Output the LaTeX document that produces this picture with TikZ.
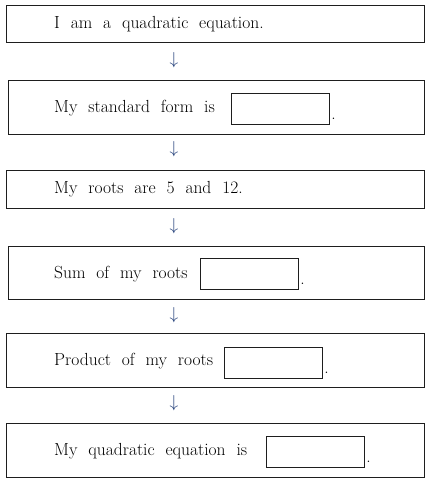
\documentclass[tikz,border=0pt]{standalone}
\usetikzlibrary{positioning, calc}
\definecolor{lineblk}{HTML}{1E1E1E}
\definecolor{arrblue}{HTML}{24407A}
\newcommand{\boxfont}{\fontsize{17.5}{19}\selectfont\spaceskip=0.62em plus 0.1em\relax}

\begin{document}
\begin{tikzpicture}[x=1pt, y=-1pt,
  frame/.style={rectangle, draw=lineblk, line width=1.1pt, anchor=north west,
    minimum width=418pt, inner sep=0pt},
  txt/.style={anchor=west, inner sep=0pt, font=\boxfont},
  blank/.style={rectangle, draw=lineblk, line width=1.1pt, minimum width=98pt,
    minimum height=31pt, inner sep=0pt, anchor=north west},
  dot/.style={anchor=south west, inner sep=0pt, font=\boxfont},
  down/.style={text=arrblue, font=\fontsize{17}{18}\selectfont, inner sep=0pt},
]
\useasboundingbox (0,0) rectangle (432,484);

% Frames
\node[frame, minimum height=37pt] (f1) at (6,5) {};
\node[frame, minimum height=54pt, minimum width=416pt] (f2) at (8,80) {};
\node[frame, minimum height=38pt] (f3) at (6,170) {};
\node[frame, minimum height=53pt, minimum width=416pt] (f4) at (8,246) {};
\node[frame, minimum height=54pt] (f5) at (6,333) {};
\node[frame, minimum height=54pt] (f6) at (6,423) {};

% Texts
\node[txt] (t1) at ($(f1.west)+(48,0)$) {I am a quadratic equation.};
\node[txt] (t2) at ($(f2.west)+(46,1)$) {My standard form is};
\node[txt] (t3) at ($(f3.west)+(48,0)$) {My roots are 5 and 12.};
\node[txt] (t4) at ($(f4.west)+(46,1)$) {Sum of my roots};
\node[txt] (t5) at ($(f5.west)+(48,1)$) {Product of my roots};
\node[txt] (t6) at ($(f6.west)+(48,1)$) {My quadratic equation is};

% Blanks
\node[blank] (b2) at (231,93) {};
\node[blank] (b4) at (200,258) {};
\node[blank] (b5) at (224,347) {};
\node[blank] (b6) at (266,436) {};
\node[dot] (d2) at ($(b2.south east)+(1,-5)$) {.};
\node[dot] (d4) at ($(b4.south east)+(1,-5)$) {.};
\node[dot] (d5) at ($(b5.south east)+(1,-5)$) {.};
\node[dot] (d6) at ($(b6.south east)+(1,-5)$) {.};

% Arrows
\node[down] (a1) at (174,60) {$\downarrow$};
\node[down] (a2) at (174,149) {$\downarrow$};
\node[down] (a3) at (174,226) {$\downarrow$};
\node[down] (a4) at (174,315) {$\downarrow$};
\node[down] (a5) at (174,403) {$\downarrow$};
\end{tikzpicture}
\end{document}
